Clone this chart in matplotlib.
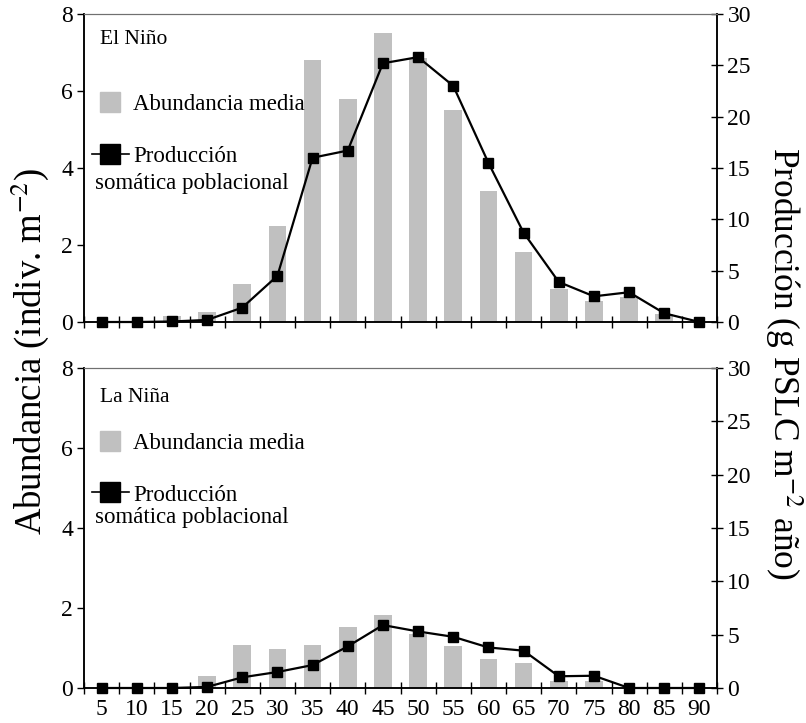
import matplotlib
matplotlib.use("Agg")
import matplotlib.pyplot as plt
import numpy as np
from matplotlib.lines import Line2D

plt.rcParams['font.family'] = ['Liberation Serif', 'DejaVu Serif']
plt.rcParams['mathtext.fontset'] = 'stix'

# Size classes (mm)
sizes = [5, 10, 15, 20, 25, 30, 35, 40, 45, 50, 55, 60, 65, 70, 75, 80, 85, 90]

# El Nino: mean abundance (indiv. m-2) and somatic production (g PSLC m-2 yr-1)
abund_nino = [0, 0, 0.15, 0.25, 1.0, 2.5, 6.8, 5.8, 7.5, 6.85, 5.5, 3.4, 1.82,
              0.87, 0.55, 0.65, 0.2, 0]
prod_nino = [0, 0, 0.05, 0.2, 1.4, 4.5, 16.0, 16.7, 25.2, 25.8, 23.0, 15.5, 8.7,
             3.9, 2.5, 2.9, 0.85, 0]

# La Nina
abund_nina = [0, 0, 0, 0.3, 1.07, 0.97, 1.07, 1.52, 1.82, 1.35, 1.05, 0.72, 0.62,
              0.18, 0.18, 0, 0, 0]
prod_nina = [0, 0, 0, 0.1, 1.0, 1.5, 2.15, 3.9, 5.9, 5.3, 4.8, 3.8, 3.5,
             1.1, 1.15, 0, 0, 0]

panels = [
    ("El Niño", abund_nino, prod_nino),
    ("La Niña", abund_nina, prod_nina),
]

W, H = 806, 723
fig = plt.figure(figsize=(W / 100, H / 100), dpi=100)

left_px, right_px = 84, 717
# (top, bottom) pixel rows of each panel
rows_px = [(14, 322), (368, 688)]
# vertical offsets (px from top of panel) for label, bar key, line key, second line of key
text_px = [(26, 89, 144, 169), (29, 77, 125, 149)]

bar_color = '#c0c0c0'
pos = np.arange(len(sizes)) + 0.5
fs_tick = 17
fs_text = 16.5

for i, (name, abund, prod) in enumerate(panels):
    top, bot = rows_px[i]
    ax = fig.add_axes([left_px / W, 1 - bot / H, (right_px - left_px) / W,
                       (bot - top) / H])
    ax2 = ax.twinx()
    ax.set_zorder(ax2.get_zorder() - 1)
    ax2.patch.set_visible(False)

    ax.bar(pos, abund, width=0.5, color=bar_color, zorder=2)
    ax2.plot(pos, prod, color='black', lw=1.6, marker='s', markersize=6.5,
             markerfacecolor='black', zorder=3, clip_on=False)

    ax.set_xlim(0, len(sizes))
    ax.set_ylim(0, 8)
    ax2.set_ylim(0, 30)
    ax.set_yticks([0, 2, 4, 6, 8])
    ax2.set_yticks(range(0, 31, 5))

    ax.set_xticks(pos)
    ax.set_xticks(np.arange(len(sizes) + 1), minor=True)
    ax.tick_params(axis='x', which='major', length=0, labelsize=fs_tick, pad=8)
    ax.tick_params(axis='x', which='minor', direction='inout', length=9, width=1)
    if i == 0:
        ax.set_xticklabels([])
    else:
        ax.set_xticklabels([str(s) for s in sizes])

    ax.tick_params(axis='y', direction='out', length=5, width=1,
                   labelsize=fs_tick, pad=3)
    ax2.tick_params(axis='y', direction='inout', length=9, width=1,
                    labelsize=fs_tick, pad=3)

    for a in (ax, ax2):
        a.spines['top'].set_color('#707070')
        a.spines['top'].set_linewidth(0.8)
        for s in ('left', 'right', 'bottom'):
            a.spines[s].set_linewidth(1.1)

    h = bot - top
    t_name, t_bar, t_line, t_line2 = text_px[i]
    ax.text((100 - left_px) / (right_px - left_px), 1 - t_name / h, name,
            transform=ax.transAxes, fontsize=fs_text - 1, va='center', ha='left')

    handles = [
        Line2D([], [], ls='none', marker='s', markersize=15,
               markerfacecolor=bar_color, markeredgecolor=bar_color),
        Line2D([], [], color='black', lw=1.2, marker='s', markersize=15,
               markerfacecolor='black'),
    ]
    leg = ax.legend(handles, ['Abundancia media', 'Producción'],
                    loc='center left', frameon=False, fontsize=fs_text,
                    handlelength=1.6, handletextpad=0.2, borderpad=0,
                    borderaxespad=0, labelspacing=1.35,
                    bbox_to_anchor=((92 - left_px) / (right_px - left_px),
                                    1 - (t_bar + t_line) / 2 / h))
    leg.set_zorder(5)
    ax.text((95 - left_px) / (right_px - left_px), 1 - t_line2 / h,
            'somática poblacional', transform=ax.transAxes, fontsize=fs_text,
            va='center', ha='left')

fig.text(30 / W, 1 - 352 / H, 'Abundancia (indiv. m$^{-2}$)', rotation=90,
         fontsize=26.5, ha='center', va='center')
fig.text(783 / W, 1 - 363 / H, 'Producción (g PSLC m$^{-2}$ año)', rotation=270,
         fontsize=25.5, ha='center', va='center')

fig.savefig('out.png', dpi=100)
